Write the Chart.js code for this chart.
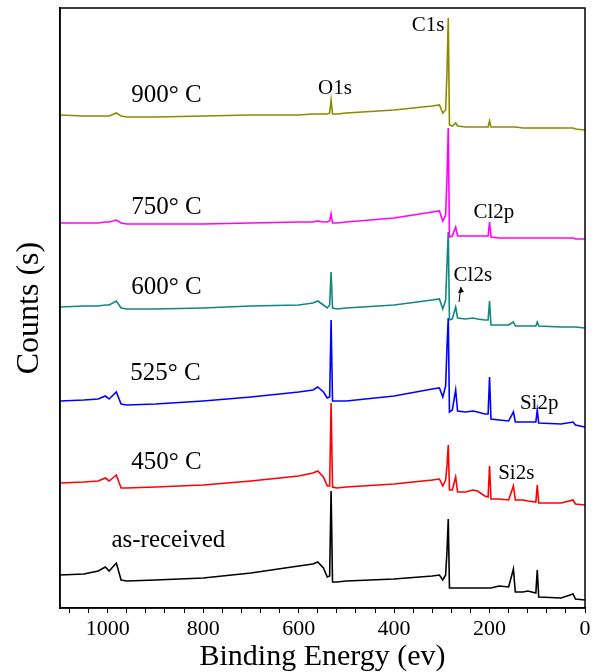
<!DOCTYPE html>
<html lang="en">
<head>
  <meta charset="UTF-8" />
  <title>XPS survey spectra</title>
  <style>
    body { margin: 0; background: #fff; }
    canvas { display: block; }
  </style>
</head>
<body>
  <canvas id="xps" width="600" height="672"></canvas>

  <script src="https://cdn.jsdelivr.net/npm/chart.js"></script>
  <script>
    // binding energy grid (eV) shared by all spectra
    const energy = [1100, 1050, 1020, 1005, 997, 982, 972, 960, 900, 800,
      700, 600, 570, 560, 548, 540, 535, 532, 529, 520,
      500, 400, 320, 305, 298, 292, 289, 286.5, 284, 278,
      271, 267, 250, 235, 225, 210, 203, 200, 197, 180,
      160, 150, 146, 130, 120, 103, 100, 97, 50, 25,
      20, 0];

    // stacked counts (arbitrary units, offset per sample)
    const counts900 = [493, 492, 492, 492, 492, 495, 492, 491, 491, 492,
      493, 493, 494, 494, 494, 494, 495, 508, 494, 494,
      495, 498, 502, 503, 495, 498, 538, 590, 483, 482,
      485, 482, 481, 481, 481, 481, 481, 487, 481, 481,
      481, 481, 481, 480, 480, 480, 480, 480, 480, 480,
      479, 478];
    const counts750 = [385, 385, 385, 386, 386, 388, 385, 384, 384, 384,
      385, 386, 386, 387, 386, 386, 387, 394, 385, 385,
      386, 390, 396, 397, 387, 393, 433, 480, 371, 372,
      381, 372, 372, 372, 372, 372, 372, 386, 371, 370,
      370, 370, 370, 370, 370, 370, 370, 370, 370, 370,
      369, 369];
    const counts600 = [301, 302, 302, 303, 303, 307, 300, 299, 299, 300,
      302, 303, 305, 307, 303, 300, 303, 336, 300, 299,
      300, 303, 308, 309, 299, 308, 346, 376, 288, 289,
      301, 290, 289, 290, 289, 288, 288, 307, 283, 283,
      283, 286, 282, 282, 282, 282, 286, 282, 281, 281,
      281, 280];
    const counts525 = [207, 208, 209, 212, 209, 216, 204, 203, 204, 207,
      211, 216, 218, 221, 216, 210, 211, 288, 207, 207,
      207, 212, 219, 220, 211, 222, 263, 290, 196, 198,
      218, 197, 196, 197, 196, 194, 194, 231, 189, 188,
      187, 196, 186, 186, 186, 186, 198, 185, 184, 186,
      183, 181];
    const counts450 = [125, 126, 127, 130, 127, 133, 120, 120, 121, 123,
      127, 132, 135, 137, 131, 122, 122, 205, 121, 120,
      121, 124, 128, 129, 122, 128, 143, 163, 118, 118,
      131, 116, 116, 118, 117, 112, 111, 142, 109, 109,
      108, 122, 108, 108, 107, 106, 123, 105, 105, 108,
      104, 103];
    const countsRaw = [33, 34, 37, 41, 37, 45, 28, 27, 28, 30,
      35, 42, 44, 46, 40, 31, 32, 117, 26, 26,
      27, 29, 32, 33, 28, 33, 58, 89, 20, 20,
      20, 20, 20, 20, 20, 20, 20, 20, 20, 22,
      21, 39, 16, 16, 17, 15, 38, 11, 10, 14,
      9, 8];

    const sampleNames = ['900° C', '750° C', '600° C', '525° C', '450° C', 'as-received'];
    const peakNames = ['C1s', 'O1s', 'Cl2p', 'Cl2s', 'Si2p', 'Si2s'];

    const serif = "'Liberation Serif', 'DejaVu Serif', serif";
    const spectra = [counts900, counts750, counts600, counts525, counts450, countsRaw];
    const colors = ['#8b8b00', '#ff00ff', '#11877d', '#0000ff', '#ff0000', '#000000'];

    // where the text sits, in data coordinates [energy, counts]
    const sampleLabelAt = [[877, 513], [877, 401], [877, 321], [879, 235], [877, 146], [873, 68]];
    const peakLabelAt = [[329, 583], [524, 520], [191, 396], [235, 333], [96, 205], [144, 135]];

    const textPlugin = {
      id: 'texts',
      afterDatasetsDraw(chart) {
        const { ctx, scales: { x, y }, chartArea } = chart;
        ctx.save();
        ctx.fillStyle = '#000';
        ctx.textAlign = 'center';
        ctx.textBaseline = 'middle';
        ctx.font = '25px ' + serif;
        sampleNames.forEach((t, i) => {
          ctx.fillText(t, x.getPixelForValue(sampleLabelAt[i][0]), y.getPixelForValue(sampleLabelAt[i][1]));
        });
        ctx.font = '21px ' + serif;
        peakNames.forEach((t, i) => {
          ctx.fillText(t, x.getPixelForValue(peakLabelAt[i][0]), y.getPixelForValue(peakLabelAt[i][1]));
        });
        // small arrow pointing to the Cl2s peak
        const x0 = x.getPixelForValue(264), y0 = y.getPixelForValue(306);
        const x1 = x.getPixelForValue(260), y1 = y.getPixelForValue(321);
        ctx.strokeStyle = '#000';
        ctx.lineWidth = 1;
        ctx.beginPath();
        ctx.moveTo(x0, y0);
        ctx.lineTo(x1, y1);
        ctx.stroke();
        ctx.beginPath();
        ctx.moveTo(x1, y1);
        ctx.lineTo(x1 - 3, y1 + 6);
        ctx.lineTo(x1 + 3, y1 + 5);
        ctx.closePath();
        ctx.fillStyle = '#000';
        ctx.fill();
        // frame round the plot
        ctx.lineWidth = 1.5;
        ctx.strokeRect(chartArea.left, chartArea.top, chartArea.right - chartArea.left, chartArea.bottom - chartArea.top);
        ctx.restore();
      }
    };

    new Chart(document.getElementById('xps'), {
      type: 'line',
      data: {
        datasets: spectra.map((c, i) => ({
          label: sampleNames[i],
          data: energy.map((e, k) => ({ x: e, y: c[k] })),
          borderColor: colors[i],
          borderWidth: 1.6,
          pointRadius: 0,
          tension: 0,
          fill: false
        }))
      },
      options: {
        responsive: false,
        animation: false,
        events: [],
        layout: { padding: { top: 8, right: 15, left: 0, bottom: 0 } },
        plugins: { legend: { display: false }, tooltip: { enabled: false } },
        scales: {
          x: {
            type: 'linear',
            min: 0,
            max: 1100,
            reverse: true,
            afterFit: s => { s.height = 64; },
            afterBuildTicks: s => {
              const t = [];
              for (let v = 0; v <= 1080; v += 40) t.push({ value: v });
              s.ticks = t;
            },
            grid: { display: true, drawOnChartArea: false, drawTicks: true, tickLength: 5, color: '#000', lineWidth: 1 },
            border: { display: true, color: '#000', width: 1.5 },
            ticks: {
              autoSkip: false,
              maxRotation: 0,
              padding: 3,
              color: '#000',
              font: { family: serif, size: 22 },
              callback: v => (v % 200 === 0 ? v : '')
            },
            title: {
              display: true,
              text: 'Binding Energy (ev)',
              color: '#000',
              font: { family: serif, size: 30, lineHeight: 1 },
              padding: { top: 0, bottom: 0 }
            }
          },
          y: {
            min: 0,
            max: 600,
            afterFit: s => { s.width = 60; },
            grid: { display: false },
            border: { display: true, color: '#000', width: 1.5 },
            ticks: { display: false },
            title: {
              display: true,
              text: 'Counts (s)',
              color: '#000',
              font: { family: serif, size: 32, lineHeight: 1 },
              padding: { top: 14, bottom: 0 }
            }
          }
        }
      },
      plugins: [textPlugin]
    });
  </script>
</body>
</html>
